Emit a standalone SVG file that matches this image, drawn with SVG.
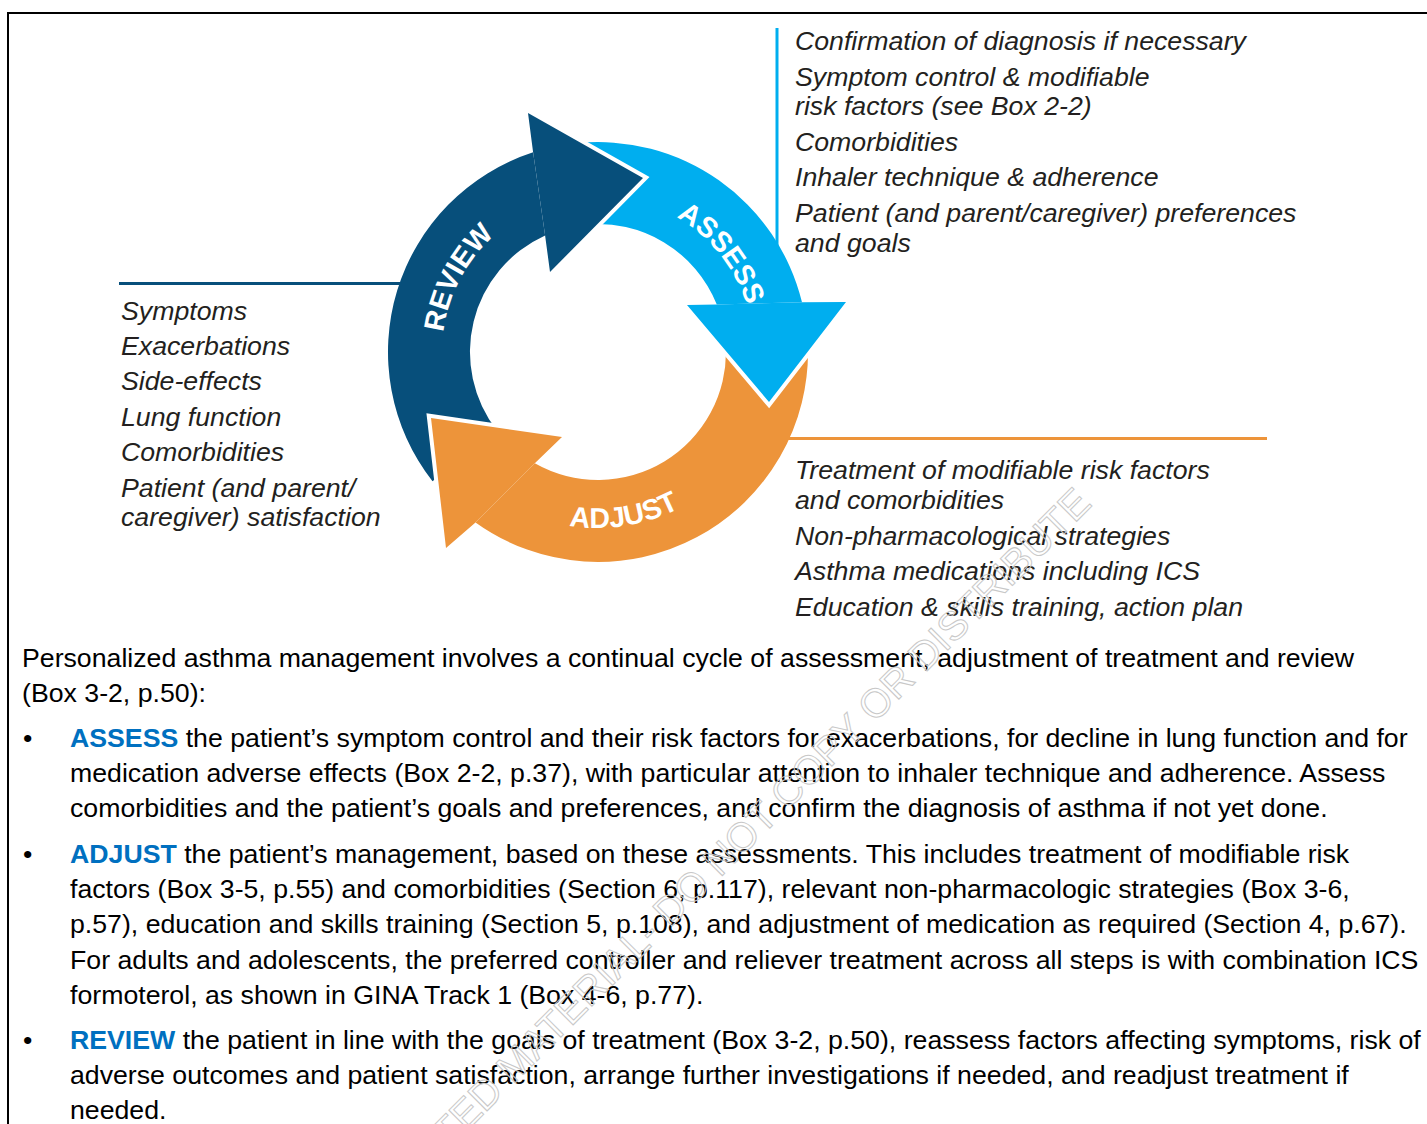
<svg xmlns="http://www.w3.org/2000/svg" xmlns:xlink="http://www.w3.org/1999/xlink" width="1427" height="1124" viewBox="0 0 1427 1124">
  <defs>
    <style>
      .lbl { font-family: "Liberation Sans", Arial, sans-serif; font-size: 26.7px; font-style: italic; fill: #231f20; }
      .body { font-family: "Liberation Sans", Arial, sans-serif; font-size: 26.7px; fill: #000; }
      .kw { font-weight: bold; fill: #0070c0; }
      .ring { font-family: "Liberation Sans", Arial, sans-serif; font-size: 28.5px; font-weight: bold; fill: #fff; }
      .halo { fill: none; stroke: #fff; stroke-width: 8; stroke-linejoin: miter; stroke-miterlimit: 10; }
      .wm { font-family: "Liberation Sans", Arial, sans-serif; font-size: 40px; fill: none; stroke: #c8c8c8; stroke-width: 1; }
    </style>
    <path id="pReview" d="M 482.25 456.6 A 156 156 0 0 1 619.4 197.5"/>
    <path id="pAssess" d="M 548.2 204.1 A 156 156 0 0 1 731.1 433.3"/>
    <path id="pAdjust" d="M 444.2 437.6 A 176 176 0 0 0 770.8 385.3"/>
  </defs>
  <rect x="0" y="0" width="1427" height="1124" fill="#fff"/>
  <g id="frame" stroke="#000" stroke-width="2" fill="none">
    <line x1="7" y1="13" x2="1427" y2="13"/>
    <line x1="8" y1="12" x2="8" y2="1124"/>
  </g>

  <g id="connectors" stroke-width="3" fill="none">
    <line x1="119" y1="283.5" x2="405" y2="283.5" stroke="#074f7b"/>
    <line x1="777" y1="28" x2="777" y2="248" stroke="#00aeef"/>
    <line x1="784" y1="438.5" x2="1267" y2="438.5" stroke="#ed943a"/>
  </g>

  <g id="cycle">
    <path id="review-body" fill="#074f7b" d="M 432.5 481.3 A 210 210 0 0 1 533.1 152.3 L 545.1 235.4 A 128 128 0 0 0 497.1 430.8 Z"/>
    <path id="assess-body" fill="#00aeef" d="M 576.1 143.2 A 210 210 0 0 1 802 302.3 L 716.8 304.5 A 128 128 0 0 0 584.6 224.7 Z"/>
    <path id="adjust-body" fill="#ed943a" d="M 807.9 344.7 A 210 210 0 0 1 475.5 522.5 L 534.8 463.3 A 128 128 0 0 0 725.9 347.5 Z"/>
    <polyline class="halo" points="446,548 431,418 562,437"/>
    <polygon id="adjust-head" fill="#ed943a" points="475.5,522.5 446,548 431,418 562,437 534.8,463.3"/>
    <polyline class="halo" points="846,302 769,402 687,305"/>
    <polygon id="assess-head" fill="#00aeef" points="802,302.3 846,302 769,402 687,305 716.8,304.5"/>
    <polyline class="halo" points="528,113 643,178 550,272"/>
    <polygon id="review-head" fill="#074f7b" points="533.1,152.3 528,113 643,178 550,272 545.1,235.4"/>
  </g>

  <g id="node-review">
    <text class="ring"><textPath xlink:href="#pReview" href="#pReview" startOffset="50%" text-anchor="middle">REVIEW</textPath></text>
  </g>
  <g id="node-assess">
    <text class="ring"><textPath xlink:href="#pAssess" href="#pAssess" startOffset="50%" text-anchor="middle">ASSESS</textPath></text>
  </g>
  <g id="node-adjust">
    <text class="ring"><textPath xlink:href="#pAdjust" href="#pAdjust" startOffset="50%" text-anchor="middle">ADJUST</textPath></text>
  </g>

  <g id="review-items">
    <text x="121" y="320" class="lbl">Symptoms</text>
    <text x="121" y="355" class="lbl">Exacerbations</text>
    <text x="121" y="390" class="lbl">Side-effects</text>
    <text x="121" y="426" class="lbl">Lung function</text>
    <text x="121" y="461" class="lbl">Comorbidities</text>
    <text x="121" y="497" class="lbl">Patient (and parent/</text>
    <text x="121" y="526" class="lbl">caregiver) satisfaction</text>
  </g>

  <g id="assess-items">
    <text x="795" y="50" class="lbl">Confirmation of diagnosis if necessary</text>
    <text x="795" y="86" class="lbl">Symptom control &amp; modifiable</text>
    <text x="795" y="115" class="lbl">risk factors (see Box 2-2)</text>
    <text x="795" y="151" class="lbl">Comorbidities</text>
    <text x="795" y="186" class="lbl">Inhaler technique &amp; adherence</text>
    <text x="795" y="222" class="lbl">Patient (and parent/caregiver) preferences</text>
    <text x="795" y="252" class="lbl">and goals</text>
  </g>

  <g id="adjust-items">
    <text x="795" y="479" class="lbl">Treatment of modifiable risk factors</text>
    <text x="795" y="509" class="lbl">and comorbidities</text>
    <text x="795" y="545" class="lbl">Non-pharmacological strategies</text>
    <text x="795" y="580" class="lbl">Asthma medications including ICS</text>
    <text x="795" y="616" class="lbl">Education &amp; skills training, action plan</text>
  </g>

  <g id="description">
    <text x="22" y="667" class="body">Personalized asthma management involves a continual cycle of assessment, adjustment of treatment and review</text>
    <text x="22" y="702" class="body">(Box 3-2, p.50):</text>
    <text x="23" y="747" class="body">•</text>
    <text x="70" y="747" class="body"><tspan class="kw">ASSESS</tspan> the patient’s symptom control and their risk factors for exacerbations, for decline in lung function and for</text>
    <text x="70" y="782" class="body">medication adverse effects (Box 2-2, p.37), with particular attention to inhaler technique and adherence. Assess</text>
    <text x="70" y="817" class="body">comorbidities and the patient’s goals and preferences, and confirm the diagnosis of asthma if not yet done.</text>
    <text x="23" y="863" class="body">•</text>
    <text x="70" y="863" class="body"><tspan class="kw">ADJUST</tspan> the patient’s management, based on these assessments. This includes treatment of modifiable risk</text>
    <text x="70" y="898" class="body">factors (Box 3-5, p.55) and comorbidities (Section 6, p.117), relevant non-pharmacologic strategies (Box 3-6,</text>
    <text x="70" y="933" class="body">p.57), education and skills training (Section 5, p.108), and adjustment of medication as required (Section 4, p.67).</text>
    <text x="70" y="969" class="body">For adults and adolescents, the preferred controller and reliever treatment across all steps is with combination ICS</text>
    <text x="70" y="1004" class="body">formoterol, as shown in GINA Track 1 (Box 4-6, p.77).</text>
    <text x="23" y="1049" class="body">•</text>
    <text x="70" y="1049" class="body"><tspan class="kw">REVIEW</tspan> the patient in line with the goals of treatment (Box 3-2, p.50), reassess factors affecting symptoms, risk of</text>
    <text x="70" y="1084" class="body">adverse outcomes and patient satisfaction, arrange further investigations if needed, and readjust treatment if</text>
    <text x="70" y="1119" class="body">needed.</text>
  </g>

  <g id="watermark">
    <text class="wm" x="0" y="0" text-anchor="end" transform="translate(1093 505) rotate(-45)">COPYRIGHTED MATERIAL- DO NOT COPY OR DISTRIBUTE</text>
  </g>
</svg>
